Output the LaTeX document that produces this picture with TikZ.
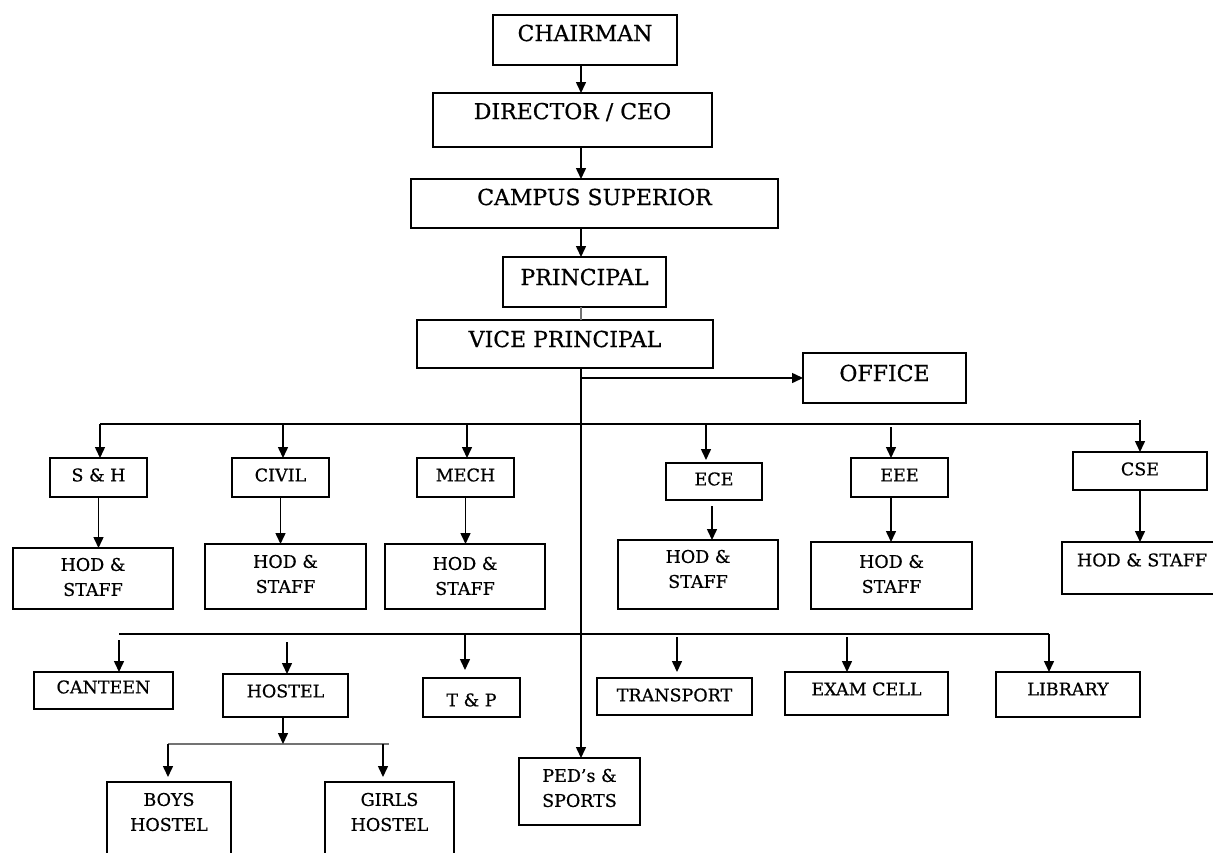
\documentclass[tikz,border=0pt]{standalone}
\usepackage{fontspec}
\setmainfont{DejaVu Serif}[BoldFont=DejaVu Serif, BoldFeatures={FakeBold=0.6}]
\usetikzlibrary{arrows.meta}
\newcommand\orgbox[8]{%
  \node[boxst, minimum width={(#4-#2)*1pt}, minimum height={(#5-#3)*1pt}] (#1) at ({(#2+#4)/2},{(#3+#5)/2}) {};
  \node[#7] (#1-t) at ({(#2+#4)/2},#6) {#8};
}
\begin{document}
\begin{tikzpicture}[x=1pt,y=-1pt,
  boxst/.style={draw, line width=1.6pt, inner sep=0pt, outer sep=0pt},
  big/.style={font=\fontsize{22}{26}\selectfont\bfseries, inner sep=0pt},
  small/.style={font=\fontsize{17.5}{25}\selectfont\bfseries, align=center, inner sep=0pt},
  ln/.style={line width=1.5pt},
  arr/.style={line width=1.5pt, -{Triangle[length=11pt,width=10pt]}},
  grayln/.style={line width=1.5pt, draw=black!55}]
\fill[white] (0,0) rectangle (1213,852);
\useasboundingbox (0,0) rectangle (1213,852);
% top chain
\orgbox{chairman}{493}{15}{677}{65}{33}{big}{CHAIRMAN}
\orgbox{director}{433}{93}{712}{147}{112}{big}{DIRECTOR / CEO}
\orgbox{campus}{411}{179}{778}{228}{197}{big}{CAMPUS SUPERIOR}
\orgbox{principal}{503}{257}{666}{307}{277}{big}{PRINCIPAL}
\orgbox{vp}{417}{320}{713}{368}{339}{big}{VICE PRINCIPAL}
\orgbox{office}{803}{353}{966}{403}{373}{big}{OFFICE}
% departments
\orgbox{sh}{50}{458}{147}{497}{475}{small}{S \& H}
\orgbox{civil}{232}{458}{329}{497}{475}{small}{CIVIL}
\orgbox{mech}{417}{458}{514}{497}{475}{small}{MECH}
\orgbox{ece}{666}{463}{762}{500}{479}{small}{ECE}
\orgbox{eee}{851}{458}{948}{497}{475}{small}{EEE}
\orgbox{cse}{1073}{452}{1207}{490}{469}{small}{CSE}
\orgbox{hodsh}{13}{548}{173}{609}{577}{small}{HOD \&\\STAFF}
\orgbox{hodcivil}{205}{544}{366}{609}{574}{small}{HOD \&\\STAFF}
\orgbox{hodmech}{385}{544}{545}{609}{576}{small}{HOD \&\\STAFF}
\orgbox{hodece}{618}{540}{778}{609}{569}{small}{HOD \&\\STAFF}
\orgbox{hodeee}{811}{542}{972}{609}{574}{small}{HOD \&\\STAFF}
\orgbox{hodcse}{1062}{542}{1222}{594}{560}{small}{HOD \& STAFF}
% services
\orgbox{canteen}{34}{672}{173}{709}{687}{small}{CANTEEN}
\orgbox{hostel}{223}{674}{348}{717}{691}{small}{HOSTEL}
\orgbox{tp}{423}{678}{520}{717}{700}{small}{T \& P}
\orgbox{transport}{597}{678}{752}{715}{695}{small}{TRANSPORT}
\orgbox{exam}{785}{672}{948}{715}{689}{small}{EXAM CELL}
\orgbox{library}{996}{672}{1140}{717}{689}{small}{LIBRARY}
\orgbox{boys}{107}{782}{231}{880}{812}{small}{BOYS\\HOSTEL}
\orgbox{girls}{325}{782}{454}{880}{812}{small}{GIRLS\\HOSTEL}
\orgbox{ped}{519}{758}{640}{825}{788}{small}{PED’s \&\\SPORTS}
% trunk
\coordinate (trunk) at (581,0);
\draw[arr] (chairman.south -| trunk) -- (director.north -| trunk);
\draw[arr] (director.south -| trunk) -- (campus.north -| trunk);
\draw[arr] (campus.south -| trunk) -- (principal.north -| trunk);
\draw[grayln] (principal.south -| trunk) -- (vp.north -| trunk);
\draw[arr] (vp.south -| trunk) -- (ped.north -| trunk);
\draw[arr] (office.west -| trunk) -- (office.west);
% department bus
\coordinate (dsh) at (100,424);
\coordinate (dcivil) at (283,424);
\coordinate (dmech) at (467,424);
\coordinate (dece) at (706,424);
\coordinate (deee) at (891,424);
\coordinate (dcse) at (1140,424);
\draw[ln] (dsh) -- (dcse);
\draw[arr] (dsh) -- (sh.north -| dsh);
\draw[arr] (dcivil) -- (civil.north -| dcivil);
\draw[arr] (dmech) -- (mech.north -| dmech);
\draw[arr] (dece) -- ([yshift=3pt]ece.north -| dece);
\draw[arr] ([yshift=-3pt]deee) -- (eee.north -| deee);
\draw[arr] ([yshift=4pt]dcse) -- (cse.north -| dcse);
\draw[arr] (sh.south) -- (sh.south |- hodsh.north);
\draw[arr] (civil.south) -- (civil.south |- hodcivil.north);
\draw[arr] (mech.south) -- (mech.south |- hodmech.north);
\draw[arr] ([xshift=-2pt,yshift=-6pt]ece.south) -- ([xshift=-2pt]ece.south |- hodece.north);
\draw[arr] (eee.south -| deee) -- (hodeee.north -| deee);
\draw[arr] (cse.south) -- (cse.south |- hodcse.north);
% services bus
\coordinate (dcan) at (119,634);
\coordinate (dhos) at (287,634);
\coordinate (dtp) at (465,634);
\coordinate (dtra) at (677,634);
\coordinate (dexa) at (847,634);
\coordinate (dlib) at (1049,634);
\draw[ln] (dcan) -- (dlib);
\draw[arr] ([yshift=-6pt]dcan) -- (canteen.north -| dcan);
\draw[arr] ([yshift=-8pt]dhos) -- (hostel.north -| dhos);
\draw[arr] (dtp) -- ([yshift=8pt]tp.north -| dtp);
\draw[arr] ([yshift=-3pt]dtra) -- ([yshift=6pt]transport.north -| dtra);
\draw[arr] ([yshift=-3pt]dexa) -- (exam.north -| dexa);
\draw[arr] (dlib) -- (library.north -| dlib);
% hostel sub-bus
\coordinate (dboys) at (168,744);
\coordinate (dgirls) at (389,744);
\coordinate (dhsub) at (283,744);
\draw[grayln] (dboys) -- (dgirls);
\draw[arr] (hostel.south -| dhsub) -- (dhsub);
\draw[arr] (dboys) -- ([yshift=5pt]boys.north -| dboys);
\draw[arr] ([xshift=-6pt]dgirls) -- ([xshift=-6pt,yshift=5pt]girls.north -| dgirls);
\end{tikzpicture}
\end{document}
